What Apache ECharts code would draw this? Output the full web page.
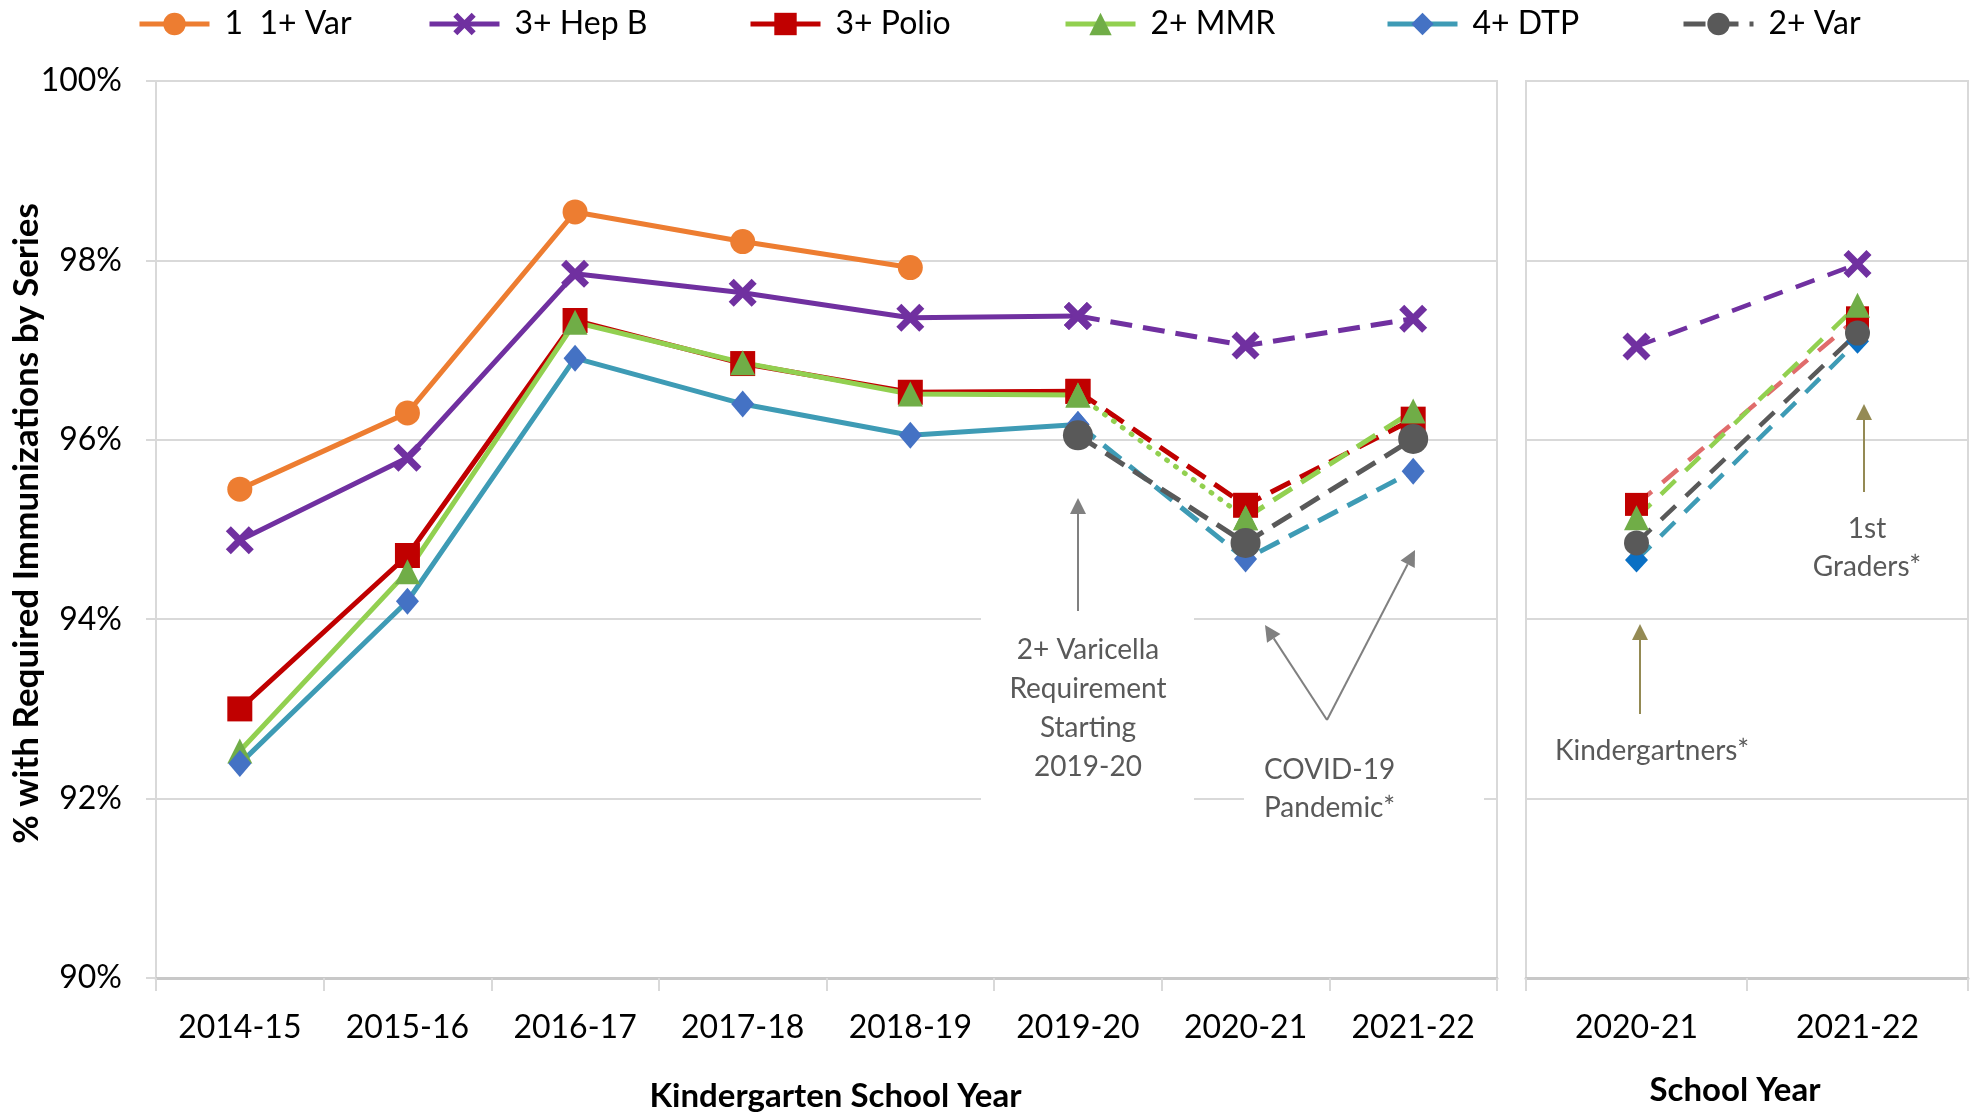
<!DOCTYPE html>
<html><head><meta charset="utf-8">
<script src="https://cdn.jsdelivr.net/npm/echarts@6/dist/echarts.min.js"></script>
<style>html,body{margin:0;padding:0;background:#fff}#c{width:1976px;height:1116px}</style>
</head><body><div id="c"></div>
<script>
// ---- data ----
const kYears = ['2014-15','2015-16','2016-17','2017-18','2018-19','2019-20','2020-21','2021-22'];
const gradeYears = ['2020-21','2021-22'];
const yMin = 90, yMax = 100, yStep = 2;

const seriesNames = ['1  1+ Var','3+ Hep B','3+ Polio','2+ MMR','4+ DTP','2+ Var'];

const var1  = [95.45, 96.30, 98.54, 98.21, 97.92, null, null, null];
const hepB  = [94.88, 95.80, 97.85, 97.64, 97.36, 97.38, 97.05, 97.35];
const polio = [93.00, 94.71, 97.33, 96.85, 96.53, 96.54, 95.27, 96.23];
const mmr   = [92.53, 94.53, 97.31, 96.86, 96.51, 96.50, 95.13, 96.32];
const dtp   = [92.39, 94.20, 96.91, 96.40, 96.05, 96.17, 94.67, 95.65];
const var2  = [null, null, null, null, null, 96.05, 94.85, 96.01];

const hepBGrade  = [97.04, 97.96];
const polioGrade = [95.28, 97.36];
const mmrGrade   = [95.13, 97.50];
const var2Grade  = [94.85, 97.19];
const dtpGrade   = [94.66, 97.10];

// ---- helpers ----
const FONT = 'Lato, "Open Sans", sans-serif';
const C = {var1:'#ed7d31', hepB:'#7030a0', polio:'#c00000', mmrLine:'#92d050', mmrMk:'#70ad47',
           dtpLine:'#3e9bb5', dtpMk:'#4472c4', var2:'#595959', polioLight:'#e06c6c', dtpMk2:'#0a70c4'};
const X_SYMBOL = 'path://M1.8,0 L5,3.2 L8.2,0 L10,1.8 L6.8,5 L10,8.2 L8.2,10 L5,6.8 L1.8,10 L0,8.2 L3.2,5 L0,1.8 Z';
const DASH = [22, 11];
const DOT = [1, 10];
const LW = 5;
function seg(arr, a, b){ return arr.map((v,i)=> (i>=a && i<=b) ? v : null); }
function line(name, data, color, mkColor, symbol, size, type, xi, lw){
  return {
    type:'line', name, data, xAxisIndex:xi, yAxisIndex:xi,
    symbol, symbolSize:size, showSymbol:true, connectNulls:false,
    lineStyle:{color, width:lw||LW, type, cap: type===DOT ? 'round':'butt'},
    itemStyle:{color:mkColor, borderWidth:0},
    emphasis:{disabled:true}
  };
}
const GD = [20,14];
const series = [
  line(seriesNames[0], var1, C.var1, C.var1, 'circle', 25, 'solid', 0),
  line(seriesNames[1], seg(hepB,0,5), C.hepB, C.hepB, X_SYMBOL, 28, 'solid', 0),
  line(seriesNames[1], seg(hepB,5,7), C.hepB, C.hepB, X_SYMBOL, 28, DASH, 0),
  line(seriesNames[2], seg(polio,0,5), C.polio, C.polio, 'rect', 25, 'solid', 0),
  line(seriesNames[2], seg(polio,5,7), C.polio, C.polio, 'rect', 25, DASH, 0),
  line(seriesNames[3], seg(mmr,0,5), C.mmrLine, C.mmrMk, 'triangle', 25, 'solid', 0),
  line(seriesNames[3], seg(mmr,5,6), C.mmrLine, C.mmrMk, 'triangle', 25, DOT, 0),
  line(seriesNames[3], seg(mmr,6,7), C.mmrLine, C.mmrMk, 'triangle', 25, DASH, 0),
  line(seriesNames[4], seg(dtp,0,5), C.dtpLine, C.dtpMk, 'diamond', [23,27], 'solid', 0),
  line(seriesNames[4], seg(dtp,5,7), C.dtpLine, C.dtpMk, 'diamond', [23,27], DASH, 0),
  line(seriesNames[5], var2, C.var2, C.var2, 'circle', 30, DASH, 0),
  // right panel
  line(seriesNames[1], hepBGrade, C.hepB, C.hepB, X_SYMBOL, 28, GD, 1, 4.5),
  line(seriesNames[2], polioGrade, C.polioLight, C.polio, 'rect', 23, GD, 1, 4.5),
  line(seriesNames[3], mmrGrade, C.mmrLine, C.mmrMk, 'triangle', 25, GD, 1, 4.5),
  line(seriesNames[4], dtpGrade, C.dtpLine, C.dtpMk2, 'diamond', [23,25], GD, 1, 4.5),
  line(seriesNames[5], var2Grade, C.var2, C.var2, 'circle', 25, GD, 1, 4.5)
];

const legendLefts = [132, 422, 743, 1058, 1380, 1676];
const legends = seriesNames.map((n,i)=>({
  data:[n], left:legendLefts[i], top:3, itemWidth:70, itemHeight:28,
  lineStyle:{width:5},
  textStyle:{fontSize:32, color:'#000', fontFamily:FONT, padding:[0,0,0,10]},
  selectedMode:false
}));

function yAxisCfg(gi, showLabels){
  return {
    type:'value', gridIndex:gi, min:yMin, max:yMax, interval:yStep,
    axisLabel:{show:showLabels, formatter:'{value}%', fontSize:32, color:'#000', fontFamily:FONT, margin:34},
    axisLine:{show:true, lineStyle:{color:'#d9d9d9', width:2}},
    axisTick:{show:showLabels, length:10, lineStyle:{color:'#d9d9d9', width:2}},
    splitLine:{show:true, lineStyle:{color:'#d9d9d9', width:2}}
  };
}
function xAxisCfg(gi, data, name, gap, pad){
  return {
    type:'category', gridIndex:gi, data, boundaryGap:true,
    axisLabel:{fontSize:32, color:'#000', fontFamily:FONT, margin:34},
    axisLine:{show:true, lineStyle:{color:'#c8c8c8', width:3}},
    axisTick:{show:true, length:13, lineStyle:{color:'#d9d9d9', width:2}},
    splitLine:{show:false},
    name, nameLocation:'middle', nameGap:gap, nameMoveOverlap:false,
    nameTextStyle:{fontSize:33, fontWeight:'bold', color:'#000', fontFamily:FONT, padding:pad}
  };
}

function arrow(x1,y1,x2,y2,color){
  const dx=x2-x1, dy=y2-y1, L=Math.hypot(dx,dy), ux=dx/L, uy=dy/L;
  const hl=16, hw=8;
  const bx=x2-ux*hl, by=y2-uy*hl;
  return [
    {type:'line', z:5, shape:{x1,y1,x2:bx,y2:by}, style:{stroke:color, lineWidth:2}},
    {type:'polygon', z:5, shape:{points:[[x2,y2],[bx-uy*hw,by+ux*hw],[bx+uy*hw,by-ux*hw]]}, style:{fill:color}}
  ];
}
const annColor = '#595959';
const graphics = [
  {type:'rect', z:1, shape:{x:981,y:612,width:213,height:195}, style:{fill:'#fff'}},
  {type:'rect', z:1, shape:{x:1244,y:742,width:240,height:90}, style:{fill:'#fff'}},
  ...arrow(1078,611,1078,498,'#808080'),
  {type:'text', z:5, x:1088, y:708, style:{text:'2+ Varicella\nRequirement\nStarting\n2019-20', fill:annColor, font:'28px '+FONT, textAlign:'center', textVerticalAlign:'middle', lineHeight:39}},
  ...arrow(1327,720,1265,625,'#808080'),
  ...arrow(1327,720,1415,550,'#808080'),
  {type:'text', z:5, x:1264, y:789, style:{text:'COVID-19\nPandemic*', fill:annColor, font:'28px '+FONT, textAlign:'left', textVerticalAlign:'middle', lineHeight:38}},
  ...arrow(1640,714,1640,624,'#948a54'),
  {type:'text', z:5, x:1652, y:751, style:{text:'Kindergartners*', fill:annColor, font:'28px '+FONT, textAlign:'center', textVerticalAlign:'middle'}},
  ...arrow(1864,492,1864,404,'#948a54'),
  {type:'text', z:5, x:1867, y:548, style:{text:'1st\nGraders*', fill:annColor, font:'28px '+FONT, textAlign:'center', textVerticalAlign:'middle', lineHeight:38}}
];

const chart = echarts.init(document.getElementById('c'), null, {renderer:'canvas'});
chart.setOption({
  animation:false,
  backgroundColor:'#fff',
  textStyle:{fontFamily:FONT},
  legend: legends,
  grid:[
    {left:156, right:479, top:81, bottom:138, show:true, borderColor:'#d9d9d9', borderWidth:2, outerBoundsMode:'none', containLabel:false},
    {left:1526, right:8, top:81, bottom:138, show:true, borderColor:'#d9d9d9', borderWidth:2, outerBoundsMode:'none', containLabel:false}
  ],
  xAxis:[ xAxisCfg(0, kYears, 'Kindergarten School Year', 102, [0,0,0,18]),
          xAxisCfg(1, gradeYears, 'School Year', 96, [0,24,0,0]) ],
  yAxis:[ Object.assign(yAxisCfg(0,true), {name:'% with Required Immunizations by Series', nameLocation:'middle', nameGap:112, nameMoveOverlap:false,
            nameTextStyle:{fontSize:35, fontWeight:'bold', color:'#000', fontFamily:FONT, padding:[0,0,0,12]}}),
          yAxisCfg(1,false) ],
  series,
  graphic: graphics
});
</script></body></html>
